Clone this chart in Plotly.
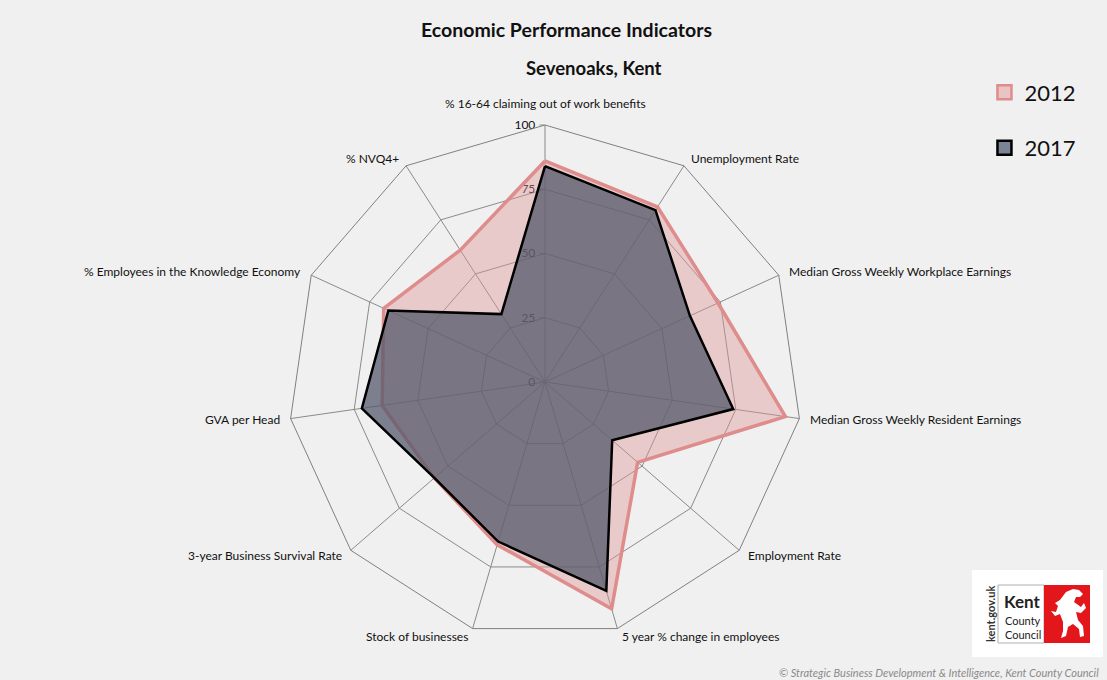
import math
import plotly.graph_objects as go

# Indicators, clockwise from the top
categories = [
    "% 16-64 claiming out of work benefits",
    "Unemployment Rate",
    "Median Gross Weekly Workplace Earnings",
    "Median Gross Weekly Resident Earnings",
    "Employment Rate",
    "5 year % change in employees",
    "Stock of businesses",
    "3-year Business Survival Rate",
    "GVA per Head",
    "% Employees in the Knowledge Economy",
    "% NVQ4+",
]
values_2012 = [86, 81, 74, 94.5, 47.7, 92, 66, 57, 64, 69, 61]
values_2017 = [84, 79.5, 62, 74, 34.6, 84.7, 64.7, 57, 72, 67, 31.4]
radial_ticks = [0, 25, 50, 75, 100]

FONT = "Lato, 'Open Sans', sans-serif"
BG = "#f0f0f0"
W, H = 1107, 680

# polar area: centre and outer radius in pixels
CX, CY, R = 545, 382, 257


def closed(seq):
    return list(seq) + [seq[0]]


def px(x):
    return x / W


def py(y):
    return 1 - y / H


fig = go.Figure()

# 2012 first, 2017 drawn over it
fig.add_trace(go.Scatterpolar(
    r=closed(values_2012), theta=closed(categories),
    name="2012", showlegend=False,
    mode="lines", fill="toself",
    fillcolor="rgba(222,150,150,0.42)",
    line=dict(color="rgb(222,140,140)", width=3.5),
))
fig.add_trace(go.Scatterpolar(
    r=closed(values_2017), theta=closed(categories),
    name="2017", showlegend=False,
    mode="lines", fill="toself",
    fillcolor="rgba(84,88,106,0.74)",
    line=dict(color="black", width=2.5),
))

# square legend keys for the two series
fig.add_trace(go.Scatterpolar(
    r=[None], theta=[categories[0]], name="2012", legendgroup="a",
    mode="markers",
    marker=dict(symbol="square", size=14, color="rgb(232,196,196)",
                line=dict(color="rgb(222,140,140)", width=2.5)),
))
fig.add_trace(go.Scatterpolar(
    r=[None], theta=[categories[0]], name="2017", legendgroup="b",
    mode="markers",
    marker=dict(symbol="square", size=14, color="rgb(122,132,146)",
                line=dict(color="black", width=2.5)),
))

fig.update_layout(
    width=W, height=H,
    paper_bgcolor=BG, plot_bgcolor=BG,
    margin=dict(l=0, r=0, t=0, b=0),
    font=dict(family=FONT, color="#111111", size=12),
    showlegend=True,
    legend=dict(
        x=0.8893, y=0.895, xanchor="left", yanchor="top",
        bgcolor="rgba(0,0,0,0)", font=dict(size=22, color="#111111"),
        tracegroupgap=24, itemwidth=30,
    ),
    polar=dict(
        domain=dict(x=[px(CX - R), px(CX + R)], y=[py(CY + R), py(CY - R)]),
        bgcolor=BG,
        gridshape="linear",
        angularaxis=dict(
            direction="clockwise", rotation=90,
            showline=True, linecolor="#808080", linewidth=1,
            gridcolor="#8a8a8a", gridwidth=1,
            ticks="", showticklabels=False,
        ),
        radialaxis=dict(
            range=[0, 100], tickvals=radial_ticks,
            ticktext=[str(v) for v in radial_ticks],
            angle=90, tickangle=90, side="counterclockwise",
            showline=False, gridcolor="#8a8a8a", gridwidth=1,
            ticks="outside", ticklen=5, tickcolor="#8a8a8a",
            tickfont=dict(size=12, color="#111111"),
            layer="below traces",
        ),
    ),
)

# Category labels set just outside each spoke end
n = len(categories)
for k, name in enumerate(categories):
    ang = 2 * math.pi * k / n
    s, c = math.sin(ang), math.cos(ang)
    pad = 8.5
    x = CX + (R + pad) * s
    y = CY - (R + pad) * c
    if k == 0:
        xa, ya, y = "center", "bottom", CY - R - 12
    else:
        xa = "left" if s > 0 else "right"
        ya = "middle"
    fig.add_annotation(text=name, x=px(x), y=py(y), xref="paper", yref="paper",
                       xanchor=xa, yanchor=ya, showarrow=False,
                       font=dict(size=12, color="#111111"))

# Titles and footer
fig.add_annotation(text="<b>Economic Performance Indicators</b>", x=px(566), y=py(30),
                   xref="paper", yref="paper", yanchor="middle", showarrow=False,
                   font=dict(size=19.5, color="#111111"))
fig.add_annotation(text="<b>Sevenoaks, Kent</b>", x=px(594), y=py(68),
                   xref="paper", yref="paper", yanchor="middle", showarrow=False,
                   font=dict(size=18.5, color="#111111"))
fig.add_annotation(text="<i>© Strategic Business Development & Intelligence, Kent County Council</i>",
                   x=px(1101), y=py(672), xref="paper", yref="paper",
                   xanchor="right", yanchor="middle", showarrow=False,
                   font=dict(size=11, color="#8a8a8a"))

# Kent County Council badge
fig.add_shape(type="rect", xref="paper", yref="paper",
              x0=px(972), x1=px(1103), y0=py(570), y1=py(657),
              fillcolor="white", line=dict(width=0))
fig.add_shape(type="rect", xref="paper", yref="paper",
              x0=px(998), x1=px(1044), y0=py(585), y1=py(643),
              fillcolor="white", line=dict(color="#b0b0b0", width=1))
fig.add_shape(type="rect", xref="paper", yref="paper",
              x0=px(1044), x1=px(1090), y0=py(585), y1=py(643),
              fillcolor="#e3161c", line=dict(width=0))
fig.add_annotation(text="<b>kent.gov.uk</b>", x=px(990), y=py(614),
                   xref="paper", yref="paper", xanchor="center", yanchor="middle",
                   showarrow=False, textangle=-90,
                   font=dict(size=11, color="#333333"))
fig.add_annotation(text="<b>Kent</b>", x=px(1002), y=py(601),
                   xref="paper", yref="paper", xanchor="left", yanchor="middle",
                   showarrow=False, font=dict(size=17, color="#222222"))
fig.add_annotation(text="County", x=px(1003), y=py(620),
                   xref="paper", yref="paper", xanchor="left", yanchor="middle",
                   showarrow=False, font=dict(size=11, color="#222222"))
fig.add_annotation(text="Council", x=px(1003), y=py(634),
                   xref="paper", yref="paper", xanchor="left", yanchor="middle",
                   showarrow=False, font=dict(size=11, color="#222222"))

# white rearing horse on the red panel (simplified silhouette, pixel outline)
horse_px = [
    (1060, 600), (1066, 592), (1073, 589), (1079, 590), (1083, 594), (1080, 597),
    (1076, 597), (1074, 602), (1081, 607), (1084, 603), (1086, 608), (1081, 613),
    (1076, 612), (1078, 620), (1083, 626), (1084, 636), (1080, 637), (1079, 629),
    (1073, 624), (1068, 627), (1066, 636), (1061, 638), (1063, 631), (1063, 622),
    (1060, 614), (1055, 616), (1051, 611), (1056, 612), (1058, 606), (1055, 603),
]
horse_path = "M " + " L ".join(f"{px(x):.5f},{py(y):.5f}" for x, y in horse_px) + " Z"
fig.add_shape(type="path", xref="paper", yref="paper", path=horse_path,
              fillcolor="white", line=dict(width=0))

fig.write_html("out.html")
